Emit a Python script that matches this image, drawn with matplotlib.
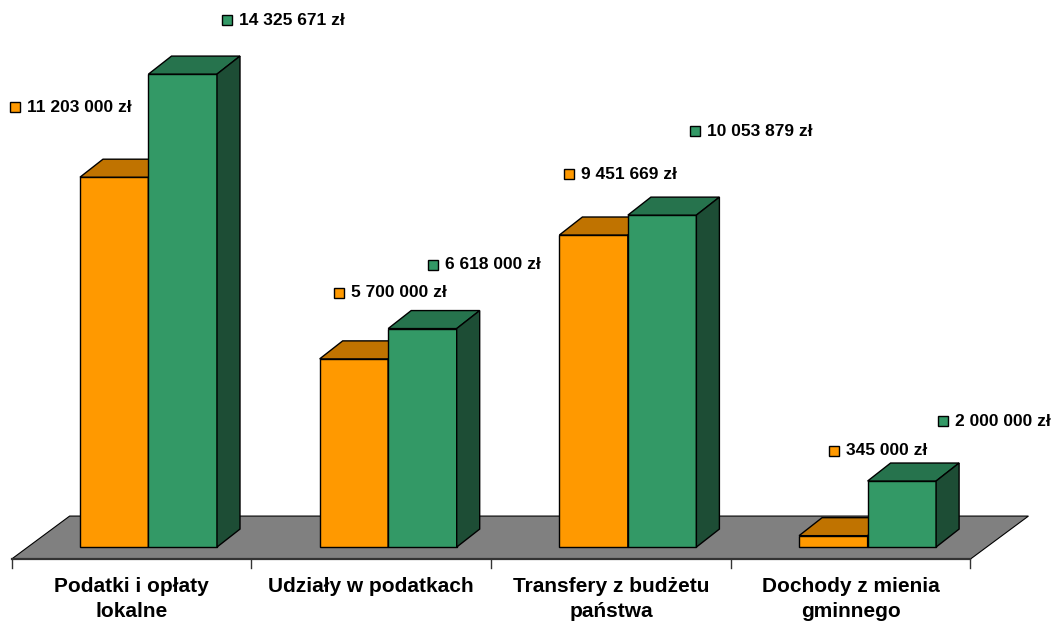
"""Dochody gminy - 3D-style grouped bar chart (orange vs green series)."""
import matplotlib
matplotlib.use("Agg")
import matplotlib.pyplot as plt
from matplotlib.patches import Polygon
from matplotlib.transforms import ScaledTranslation

plt.rcParams["font.family"] = ["Liberation Sans", "DejaVu Sans"]

categories = ["Podatki i opłaty\nlokalne", "Udziały w podatkach",
              "Transfery z budżetu\npaństwa", "Dochody z mienia\ngminnego"]
values_a = [11203000, 5700000, 9451669, 345000]      # orange series
values_b = [14325671, 6618000, 10053879, 2000000]    # green series

# label offsets (pixels) from the front-top-left corner of each bar
offsets_a = [(-70, 70), (14, 66), (5, 61), (30, 85)]
offsets_b = [(74, 54), (40, 64), (62, 84), (70, 60)]

ORANGE = ("#FF9900", "#C07300", "#7F4C00")
GREEN = ("#339966", "#26734D", "#1D4D35")

W, H, DPI = 10.53, 6.23, 100
XLIM = (-0.6195, 3.7735)
YLIM = (-2.30e6, 16.57e6)
SX = W * DPI / (XLIM[1] - XLIM[0])     # px per category unit
SY = H * DPI / (YLIM[1] - YLIM[0])     # px per zł


def px(dx, dy):
    return dx / SX, dy / SY


fig = plt.figure(figsize=(W, H), dpi=DPI)
ax = fig.add_axes([0, 0, 1, 1])
ax.set_xlim(*XLIM)
ax.set_ylim(*YLIM)
ax.axis("off")

n = len(categories)
bw = 0.2858
ddx, ddy = px(23, 18)          # bar depth
fdx, fdy = px(-17, -12)        # floor front edge
bdx, bdy = px(41, 31)          # floor back edge

# ---- floor ------------------------------------------------------------ #
x_lo, x_hi = -0.5, n - 0.5
floor = Polygon([(x_lo + fdx, fdy), (x_hi + fdx, fdy), (x_hi + bdx, bdy),
                 (x_lo + bdx, bdy)], closed=True, facecolor="#808080",
                edgecolor="black", lw=0.8, zorder=1)
ax.add_patch(floor)
ax.plot([x_lo + fdx, x_hi + fdx], [fdy, fdy], color="#333333", lw=1.6,
        zorder=1.5)
tick_len = px(0, 9)[1]
for k in range(n + 1):
    xt = x_lo + k + fdx
    ax.plot([xt, xt], [fdy, fdy - tick_len], color="#333333", lw=1.0,
            zorder=1.5)


def bar3d(x0, v, cols, z):
    ax.bar(x0, v, bw, align="edge", color=cols[0], edgecolor="black",
           lw=1.0, zorder=z)
    top = Polygon([(x0, v), (x0 + bw, v), (x0 + bw + ddx, v + ddy),
                   (x0 + ddx, v + ddy)], closed=True, facecolor=cols[1],
                  edgecolor="black", lw=1.0, zorder=z)
    side = Polygon([(x0 + bw, 0), (x0 + bw, v), (x0 + bw + ddx, v + ddy),
                    (x0 + bw + ddx, ddy)], closed=True, facecolor=cols[2],
                   edgecolor="black", lw=1.0, zorder=z)
    ax.add_patch(top)
    ax.add_patch(side)


def label(x0, v, off, color):
    tr = ax.transData + ScaledTranslation(off[0] / DPI, off[1] / DPI,
                                          fig.dpi_scale_trans)
    ax.plot([x0], [v], marker="s", ms=7.5, mfc=color, mec="black", mew=1.0,
            transform=tr + ScaledTranslation(5 / DPI, 0, fig.dpi_scale_trans),
            zorder=20, clip_on=False)
    txt = f"{v:,}".replace(",", " ") + " zł"
    ax.text(x0, v, txt, transform=tr + ScaledTranslation(17 / DPI, 0,
            fig.dpi_scale_trans), ha="left", va="center", fontsize=12.5,
            fontweight="bold", zorder=20)


for i in range(n):
    xa = i - bw
    xb = i
    bar3d(xa, values_a[i], ORANGE, 2 + 2 * i)
    bar3d(xb, values_b[i], GREEN, 3 + 2 * i)
    label(xa, values_a[i], offsets_a[i], ORANGE[0])
    label(xb, values_b[i], offsets_b[i], GREEN[0])
    ax.text(i + fdx, fdy - px(0, 18)[1], categories[i], ha="center",
            va="top", fontsize=15, fontweight="bold", linespacing=1.42)

fig.savefig("out.png", dpi=DPI)
